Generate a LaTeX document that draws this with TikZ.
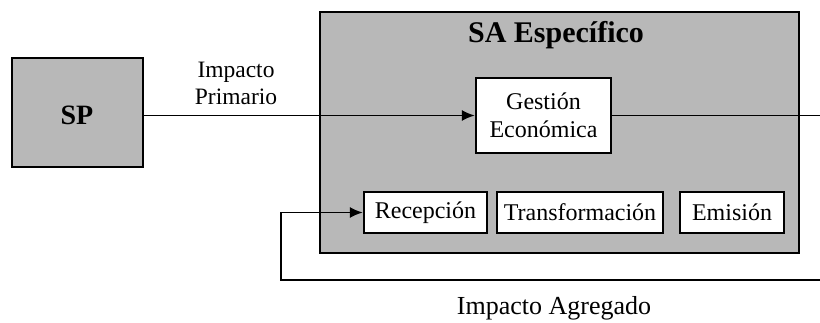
\documentclass[tikz,border=0pt]{standalone}
\usepackage{fontspec}
\setmainfont{Liberation Serif}
\usetikzlibrary{arrows.meta}
\begin{document}
\begin{tikzpicture}[x=1pt,y=-1pt,
  shadebox/.style={draw=black, line width=2.4pt, fill=black!28, inner sep=0pt},
  wbox/.style={draw=black, line width=2.2pt, fill=white, inner sep=0pt, align=center, font=\fontsize{24}{28}\selectfont},
  lbl/.style={inner sep=0pt, align=center},
  conn/.style={line width=1.8pt},
  arr/.style={conn, -{Latex[length=13pt,width=11pt]}}]
\useasboundingbox (0,0) rectangle (820,323);
% big boxes
\node[shadebox, minimum width=131pt, minimum height=109pt] (sp) at (77.5,112.5) {};
\node[lbl, anchor=base, font=\fontsize{28}{30}\selectfont\bfseries] (sptext) at (77,125) {SP};
\node[shadebox, minimum width=479pt, minimum height=241pt] (sa) at (559.5,132.5) {};
\node[lbl, anchor=base, font=\fontsize{30}{32}\selectfont\bfseries] (satext) at (556,43) {SA Específico};
% inner boxes
\node[wbox, minimum width=135pt, minimum height=75pt] (gest) at (543.5,115.5) {Gestión\\Económica};
\node[wbox, minimum width=123pt, minimum height=41pt] (rec) at (425.5,212.5) {Recepción};
\node[wbox, minimum width=166pt, minimum height=41pt] (trans) at (580,212.5) {Transformación};
\node[wbox, minimum width=104pt, minimum height=41pt] (emis) at (732,212.5) {Emisión};
% labels
\node[lbl, font=\fontsize{23.5}{27}\selectfont] (ip) at (236,83) {Impacto\\Primario};
\node[lbl, anchor=base, font=\fontsize{26}{30}\selectfont] (ia) at (554,315) {Impacto Agregado};
% connectors
\coordinate (outE) at (820,0);
\coordinate (fbR) at (820,280);
\coordinate (fbL) at (281,280);
\draw[arr] (sp.east |- gest.west) -- (gest.west);
\draw[conn] (gest.east) -- (gest.east -| outE);
\draw[arr] (fbR) -- (fbL) |- (rec.west);
\end{tikzpicture}
\end{document}
